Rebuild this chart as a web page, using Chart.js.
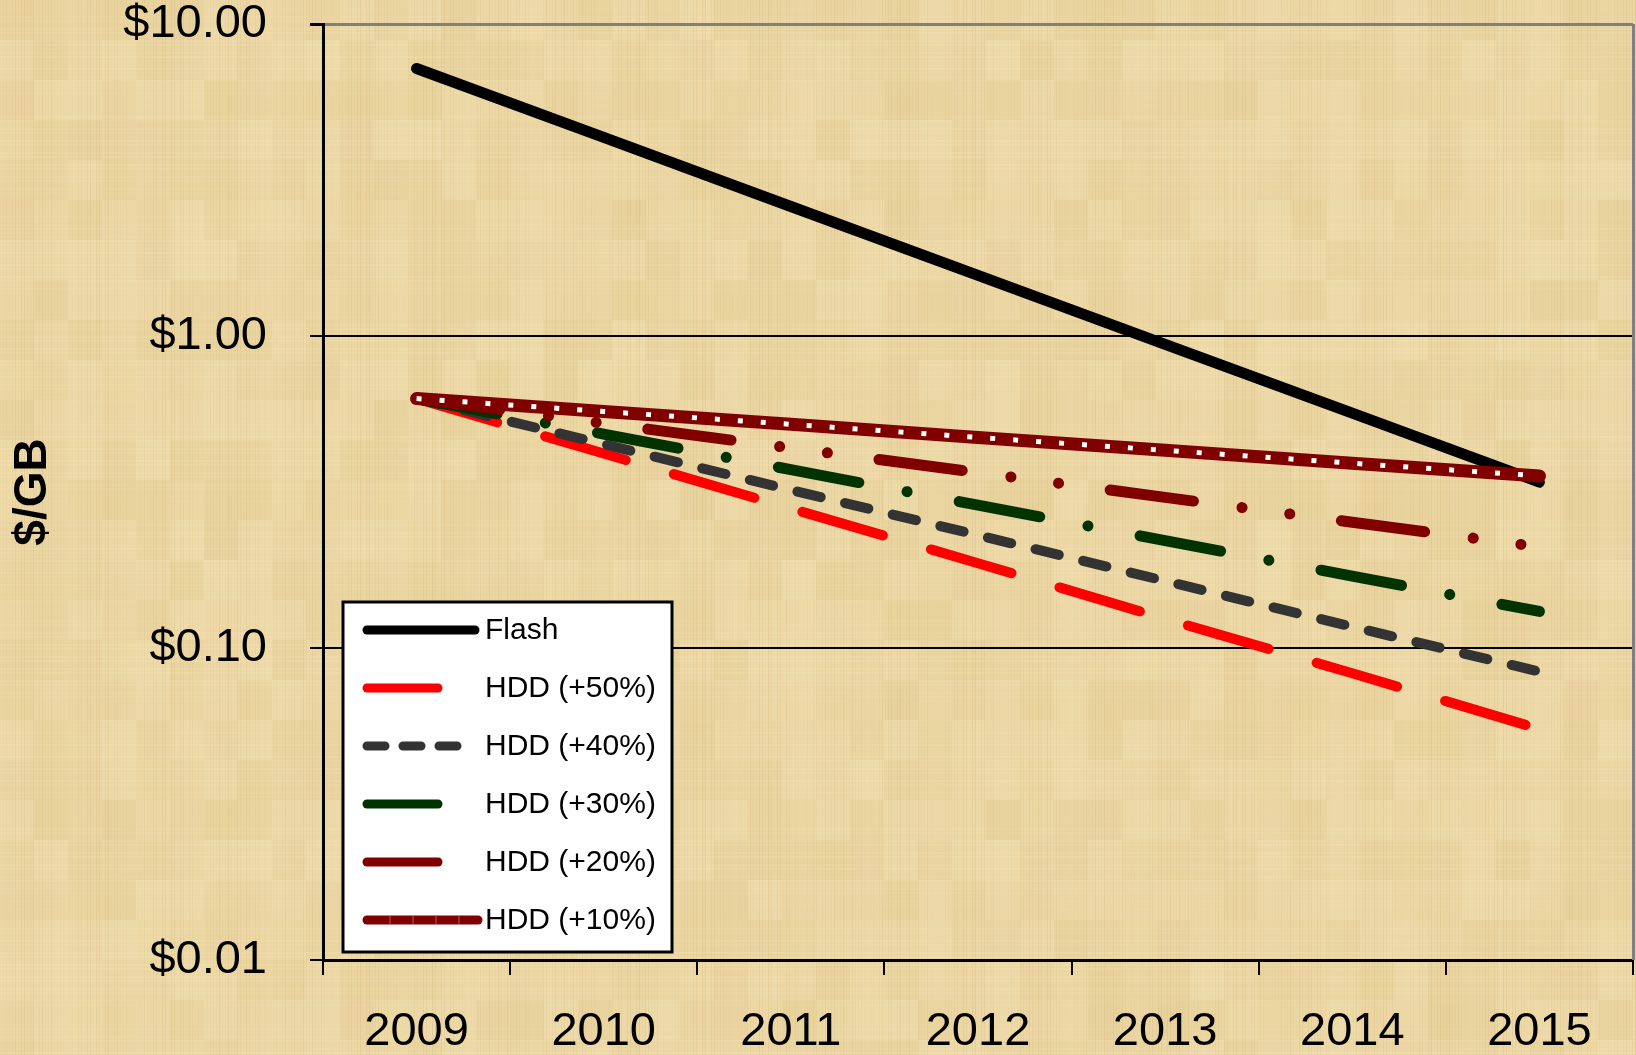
<!DOCTYPE html>
<html>
<head>
<meta charset="utf-8">
<title>Flash vs HDD $/GB</title>
<script src="https://cdn.jsdelivr.net/npm/chart.js@4.4.1/dist/chart.umd.min.js"></script>
<style>
  html, body { margin: 0; padding: 0; background: #ead39e; overflow: hidden; }
  #wrap { position: relative; width: 1636px; height: 1055px; }
</style>
</head>
<body>
<div id="wrap"><canvas id="myChart"></canvas></div>
<script>
// values (log scale, $/GB)
const years = ['2009', '2010', '2011', '2012', '2013', '2014', '2015'];
const flash = [7.2, 4.33, 2.6, 1.565, 0.94, 0.566, 0.34];
const hdd50 = [0.63, 0.42, 0.28, 0.187, 0.124, 0.083, 0.055];
const hdd40 = [0.63, 0.45, 0.321, 0.23, 0.164, 0.117, 0.084];
const hdd30 = [0.63, 0.485, 0.373, 0.287, 0.221, 0.17, 0.131];
const hdd20 = [0.63, 0.525, 0.4375, 0.365, 0.304, 0.253, 0.211];
const hdd10 = [0.63, 0.573, 0.521, 0.473, 0.43, 0.391, 0.356];
const seriesNames = ['Flash', 'HDD (+50%)', 'HDD (+40%)', 'HDD (+30%)', 'HDD (+20%)', 'HDD (+10%)'];
const yTicks = [0.01, 0.1, 1, 10];
const yTickLabels = ['$0.01', '$0.10', '$1.00', '$10.00'];

const FONT = '"Liberation Sans", Arial, sans-serif';

// parchment-like background, drawn behind everything
function paintPaper(ctx, w, h) {
  ctx.fillStyle = '#ecd7a4';
  ctx.fillRect(0, 0, w, h);
  for (let bx = 0; bx < w; bx += 34) {
    for (let by = 0; by < h; by += 40) {
      const k = Math.sin(bx * 12.9898 + by * 78.233) * 43758.5453;
      const f = k - Math.floor(k);
      ctx.fillStyle = f > 0.5
        ? 'rgba(250,238,200,' + ((f - 0.5) * 0.3).toFixed(3) + ')'
        : 'rgba(205,170,100,' + ((0.5 - f) * 0.2).toFixed(3) + ')';
      ctx.fillRect(bx, by, 34, 40);
    }
  }
  for (let x = 0; x < w; x += 3) {
    const a = Math.abs(Math.sin(x * 0.71) * Math.sin(x * 0.047)) * 0.18;
    ctx.fillStyle = 'rgba(185,145,75,' + a.toFixed(3) + ')';
    ctx.fillRect(x, 0, 1, h);
  }
  for (let y = 0; y < h; y += 4) {
    const a = Math.abs(Math.sin(y * 0.53) * Math.sin(y * 0.031)) * 0.14;
    ctx.fillStyle = 'rgba(255,248,220,' + a.toFixed(3) + ')';
    ctx.fillRect(0, y, w, 2);
  }
}

const paper = {
  id: 'paper',
  beforeDraw(chart) {
    paintPaper(chart.ctx, chart.width, chart.height);
  }
};

// legend box sitting inside the plot, lower left
const insideLegend = {
  id: 'insideLegend',
  afterDraw(chart) {
    const ctx = chart.ctx;
    const area = chart.chartArea;
    ctx.save();
    // gray right border of plot area
    ctx.strokeStyle = '#808080';
    ctx.lineWidth = 3;
    ctx.beginPath();
    ctx.moveTo(area.right + 0.5, area.top);
    ctx.lineTo(area.right + 0.5, area.bottom);
    ctx.stroke();

    const bx = area.left + 20, by = area.bottom - 358, bw = 329, bh = 350;
    ctx.fillStyle = '#ffffff';
    ctx.fillRect(bx, by, bw, bh);
    ctx.strokeStyle = '#000000';
    ctx.lineWidth = 3;
    ctx.strokeRect(bx, by, bw, bh);

    const lengths = [108, 71, 100, 71, 71, 111];
    const dashes = [[], [], [18, 18], [], [], []];
    const items = chart.data.datasets.filter(d => !d.noLegend);
    items.forEach((ds, i) => {
      const y = by + 28 + i * 58;
      const x0 = bx + 24;
      ctx.strokeStyle = ds.borderColor;
      ctx.lineWidth = 9;
      ctx.lineCap = 'round';
      ctx.setLineDash(dashes[i]);
      ctx.beginPath();
      ctx.moveTo(x0, y);
      ctx.lineTo(x0 + lengths[i], y);
      ctx.stroke();
      if (i === 5) {
        ctx.strokeStyle = 'rgba(255,200,200,0.45)';
        ctx.lineWidth = 1;
        ctx.lineCap = 'butt';
        ctx.setLineDash([]);
        ctx.beginPath();
        for (let k = x0 + 23; k < x0 + lengths[i]; k += 23) {
          ctx.moveTo(k, y - 4);
          ctx.lineTo(k, y + 4);
        }
        ctx.stroke();
      }
      ctx.setLineDash([]);
      ctx.fillStyle = '#000000';
      ctx.font = '30px ' + FONT;
      ctx.textBaseline = 'middle';
      ctx.textAlign = 'left';
      ctx.fillText(seriesNames[i], bx + 142, y + 1);
    });
    ctx.restore();
  }
};

const ctx = document.getElementById('myChart');
new Chart(ctx, {
  type: 'line',
  data: {
    labels: years,
    datasets: [
      { label: seriesNames[0], data: flash, borderColor: '#000000', borderWidth: 11,
        borderCapStyle: 'round', borderJoinStyle: 'round', pointRadius: 0, order: 6 },
      { label: seriesNames[1], data: hdd50, borderColor: '#ff0000', borderWidth: 10,
        borderDash: [84, 50], borderCapStyle: 'round', pointRadius: 0, order: 5 },
      { label: seriesNames[2], data: hdd40, borderColor: '#333333', borderWidth: 10,
        borderDash: [24, 25], borderCapStyle: 'round', pointRadius: 0, order: 4 },
      { label: seriesNames[3], data: hdd30, borderColor: '#003300', borderWidth: 11,
        borderDash: [82, 49, 0.1, 53], borderCapStyle: 'round', pointRadius: 0, order: 3 },
      { label: seriesNames[4], data: hdd20, borderColor: '#800000', borderWidth: 11,
        borderDash: [84, 49, 0.1, 48, 0.1, 52], borderCapStyle: 'round', pointRadius: 0, order: 2 },
      { label: seriesNames[5], data: hdd10, borderColor: '#800000', borderWidth: 13,
        borderCapStyle: 'round', borderJoinStyle: 'round', pointRadius: 0, order: 1 },
      // white square dots riding on the +10% line
      { label: 'dots', noLegend: true, data: hdd10, borderColor: '#ffffff', borderWidth: 5,
        borderDash: [5, 18], borderCapStyle: 'butt', pointRadius: 0, order: 0 }
    ]
  },
  options: {
    responsive: true,
    maintainAspectRatio: false,
    animation: false,
    events: [],
    layout: { padding: { top: 24, right: 3, left: 0, bottom: 0 } },
    plugins: {
      legend: { display: false },
      tooltip: { enabled: false },
      title: { display: false }
    },
    elements: { line: { tension: 0, fill: false } },
    scales: {
      x: {
        type: 'category',
        offset: true,
        afterFit: (scale) => { scale.height = 95; },
        grid: { offset: true, drawOnChartArea: false, drawTicks: true, tickLength: 15,
                color: '#000000', lineWidth: 2 },
        border: { display: true, color: '#000000', width: 3 },
        ticks: { color: '#000000', font: { family: FONT, size: 47, lineHeight: 1 },
                 padding: 34, maxRotation: 0, autoSkip: false }
      },
      y: {
        type: 'logarithmic',
        min: 0.01,
        max: 10,
        afterFit: (scale) => {
          scale.width = 323;
          scale.paddingTop = 0;
          scale.paddingBottom = 0;
        },
        afterBuildTicks: (scale) => { scale.ticks = yTicks.map(v => ({ value: v })); },
        grid: {
          color: (c) => (c.tick && c.tick.value === 10 ? '#808080' : '#000000'),
          lineWidth: (c) => (c.tick && c.tick.value === 10 ? 3 : 2),
          tickColor: '#000000',
          tickLength: 13
        },
        border: { display: true, color: '#000000', width: 3 },
        ticks: {
          color: '#000000',
          font: { family: FONT, size: 47, lineHeight: 1 },
          padding: 43,
          callback: (value, index) => yTickLabels[index]
        },
        title: {
          display: true,
          text: '$/GB',
          color: '#000000',
          font: { family: FONT, size: 46, weight: 'bold', lineHeight: 1.2 },
          padding: { top: 6, bottom: 0 }
        }
      }
    }
  },
  plugins: [paper, insideLegend]
});
</script>
</body>
</html>
